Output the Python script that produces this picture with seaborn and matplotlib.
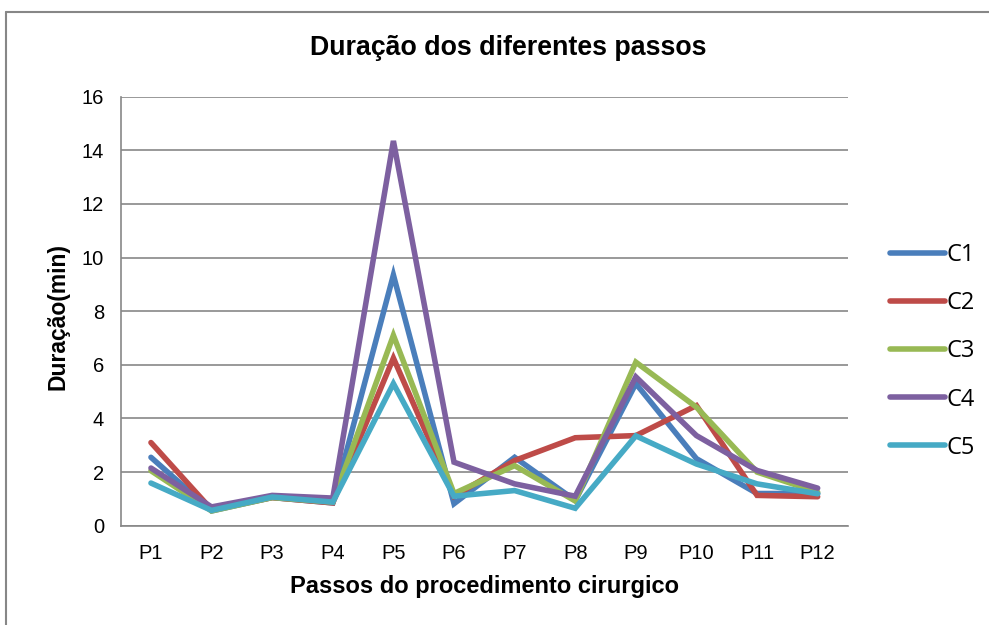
import matplotlib
matplotlib.use('Agg')
import matplotlib.pyplot as plt
from matplotlib.lines import Line2D
import seaborn as sns
import pandas as pd

# values (minutes)
passos = ['P1', 'P2', 'P3', 'P4', 'P5', 'P6', 'P7', 'P8', 'P9', 'P10', 'P11', 'P12']
c1 = [2.55, 0.55, 1.05, 0.85, 9.35, 0.82, 2.55, 0.94, 5.3, 2.5, 1.2, 1.2]
c2 = [3.1, 0.6, 1.05, 0.85, 6.25, 1.1, 2.43, 3.28, 3.36, 4.48, 1.13, 1.08]
c3 = [2.05, 0.55, 1.05, 0.88, 7.1, 1.2, 2.24, 0.92, 6.1, 4.42, 2.0, 1.25]
c4 = [2.15, 0.7, 1.13, 1.03, 14.35, 2.37, 1.56, 1.1, 5.55, 3.36, 2.06, 1.4]
c5 = [1.59, 0.57, 1.07, 0.88, 5.3, 1.1, 1.31, 0.65, 3.35, 2.3, 1.56, 1.19]
series = {'C1': c1, 'C2': c2, 'C3': c3, 'C4': c4, 'C5': c5}
cores = {'C1': '#4A7EBB', 'C2': '#BE4B48', 'C3': '#98B954', 'C4': '#7D60A0', 'C5': '#46AAC5'}

rows = []
for nome, vals in series.items():
    for p, v in zip(passos, vals):
        rows.append({'Passo': p, 'Duracao': v, 'Serie': nome})
df = pd.DataFrame(rows)

sns.set_style('white')
plt.rcParams['font.family'] = ['Liberation Sans', 'DejaVu Sans']
plt.rcParams['text.color'] = 'black'

fig = plt.figure(figsize=(9.89, 6.25), dpi=100)
ax = fig.add_axes([0.1220, 0.1589, 0.7354, 0.6864])

sns.lineplot(data=df, x='Passo', y='Duracao', hue='Serie', palette=cores,
             linewidth=4, sort=False, ax=ax, solid_capstyle='round',
             solid_joinstyle='miter')

grid = '#878787'
ax.set_xlim(-0.5, len(passos) - 0.5)
ax.set_ylim(0, 16)
ax.set_yticks(range(0, 17, 2))
ax.yaxis.grid(True, color=grid, linewidth=1.2)
ax.xaxis.grid(False)
ax.set_axisbelow(True)
for s in ['top', 'right']:
    ax.spines[s].set_visible(False)
for s in ['left', 'bottom']:
    ax.spines[s].set_color(grid)
    ax.spines[s].set_linewidth(1.2)
ax.tick_params(axis='y', length=3, width=1, color=grid, pad=9, labelsize=14.5, labelcolor='black')
ax.tick_params(axis='x', length=0, pad=13, labelsize=14.5, labelcolor='black')
ax.set_xlabel('')
ax.set_ylabel('')

leg = ax.legend(loc='upper left', bbox_to_anchor=(869 / 989, 1 - 222 / 625),
                bbox_transform=fig.transFigure, frameon=False,
                prop={'family': 'Open Sans', 'size': 17}, handlelength=2.3,
                handletextpad=0.08, labelspacing=1.02)
for h in leg.get_lines():
    h.set_linewidth(4)
    h.set_solid_capstyle('round')
for t in leg.get_texts():
    t.set_color('black')

fig.text(508 / 989, 1 - 48 / 625, 'Duração dos diferentes passos', ha='center', va='center',
         fontsize=19.3, fontweight='bold', color='black')
fig.text(485 / 989, 1 - 587 / 625, 'Passos do procedimento cirurgico', ha='center', va='center',
         fontsize=17, fontweight='bold', color='black')
fig.text(58 / 989, 1 - 317 / 625, 'Duração(min)', ha='center', va='center', rotation=90,
         fontsize=16.5, fontweight='bold', color='black')

# chart area border (runs off the right and bottom edges)
fig.add_artist(Line2D([5.5 / 989, 5.5 / 989], [1 - 12 / 625, -0.01], transform=fig.transFigure,
                      color=grid, linewidth=1.5))
fig.add_artist(Line2D([5.5 / 989, 1.01], [1 - 12 / 625, 1 - 12 / 625], transform=fig.transFigure,
                      color=grid, linewidth=1.5))

fig.savefig('out.png', dpi=100, facecolor='white')
